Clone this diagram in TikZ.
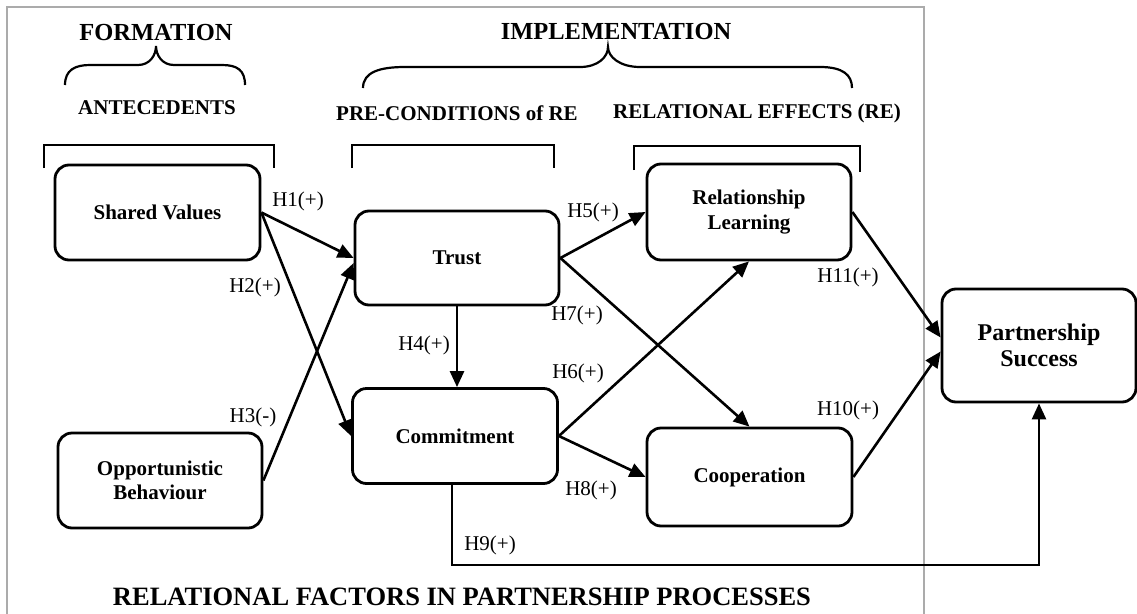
\documentclass[tikz,border=0pt]{standalone}
\usepackage{fontspec}
\setmainfont{Liberation Serif}
\usetikzlibrary{arrows.meta}
\begin{document}
\begin{tikzpicture}[x=1pt,y=-1pt,
  box/.style={draw, line width=2.8pt, rounded corners=14pt, align=center,
    font=\bfseries\fontsize{21}{24.5}\selectfont, inner sep=0pt},
  lab/.style={font=\fontsize{21}{24}\selectfont, inner sep=0pt},
  hd/.style={font=\bfseries\fontsize{21}{24}\selectfont, inner sep=0pt},
  bighd/.style={font=\bfseries\fontsize{24.5}{28}\selectfont, inner sep=0pt},
  arr/.style={line width=2.6pt, -{Triangle[length=16pt,width=14pt]}},
  brk/.style={line width=2.2pt},
  frame/.style={draw=black!33, line width=2pt}
]
\useasboundingbox (0,0) rectangle (1137,613);
\fill[white] (0,0) rectangle (1137,613);

% frame
\draw[frame] (7,620) -- (7,7) -- (924,7) -- (924,620);

% headers
\node[bighd] (formation) at (156,33) {FORMATION};
\node[bighd] (implementation) at (616,32) {IMPLEMENTATION};
\node[hd] (antecedents) at (157,108) {ANTECEDENTS};
\node[hd] (precond) at (457,113) {PRE-CONDITIONS of RE};
\node[hd] (releff) at (757,113) {RELATIONAL EFFECTS (RE)};
\node[font=\bfseries\fontsize{26.5}{30}\selectfont, inner sep=0pt] (title) at (462,597) {RELATIONAL FACTORS IN PARTNERSHIP PROCESSES};

% braces
\draw[brk] (65,85) .. controls (65,70) and (75,65) .. (90,65) -- (138,65)
  .. controls (150,65) and (156,55) .. (156,46)
  .. controls (156,55) and (162,65) .. (174,65) -- (222,65)
  .. controls (237,65) and (245,70) .. (245,85);
\draw[brk] (363,88) .. controls (363,72) and (380,67) .. (405,67) -- (580,67)
  .. controls (598,67) and (608,57) .. (608,47)
  .. controls (608,57) and (620,67) .. (640,67) -- (820,67)
  .. controls (843,67) and (852,75) .. (852,88);

% square brackets
\draw[brk] (44,168) -- (44,145) -- (274,145) -- (274,168);
\draw[brk] (352,168) -- (352,145) -- (554,145) -- (554,168);
\draw[brk] (634,170) -- (634,146) -- (860,146) -- (860,172);

% nodes
\node[box, minimum width=205pt, minimum height=95pt] (SV) at (157.5,212.5) {Shared Values};
\node[box, minimum width=204pt, minimum height=95pt] (OB) at (160,480.5) {Opportunistic\\Behaviour};
\node[box, minimum width=204pt, minimum height=94pt] (Trust) at (457,258) {Trust};
\node[box, minimum width=205pt, minimum height=95pt] (Commit) at (455,436) {Commitment};
\node[box, minimum width=204pt, minimum height=96pt] (RL) at (749,212) {Relationship\\Learning};
\node[box, minimum width=205pt, minimum height=98pt] (Coop) at (749.5,477) {Cooperation};
\node[box, minimum width=194pt, minimum height=113pt,
  font=\bfseries\fontsize{24}{26.5}\selectfont] (PS) at (1039,345.5) {Partnership\\Success};

% arrows
\draw[arr] (SV.east) -- (Trust.west);
\draw[arr] (SV.east) -- (Commit.west);
\draw[arr] (OB.east) -- ([yshift=-5pt]Trust.west);
\draw[arr] (Trust.south) -- (Trust.south |- Commit.north);
\draw[arr] (Trust.east) -- (RL.west);
\draw[arr] (Trust.east) -- (Coop.north);
\draw[arr] (Commit.east) -- (RL.south);
\draw[arr] (Commit.east) -- (Coop.west);
\draw[arr] (RL.east) -- ([yshift=8pt]PS.west);
\draw[arr] (Coop.east) -- ([yshift=-6pt]PS.west);
\coordinate (h9) at (0,565);
\draw[arr] ([xshift=-3pt]Commit.south) -- ([xshift=-3pt]Commit.south |- h9) -| (PS.south);

% labels
\node[lab] (l1) at (298,201) {H1(+)};
\node[lab] (l2) at (255,287) {H2(+)};
\node[lab] (l3) at (253,417) {H3(-)};
\node[lab] (l4) at (424,345) {H4(+)};
\node[lab] (l5) at (593,212) {H5(+)};
\node[lab] (l6) at (578,373) {H6(+)};
\node[lab] (l7) at (577,315) {H7(+)};
\node[lab] (l8) at (591,490) {H8(+)};
\node[lab] (l9) at (490,545) {H9(+)};
\node[lab] (l10) at (848,410) {H10(+)};
\node[lab] (l11) at (848,277) {H11(+)};
\end{tikzpicture}
\end{document}
